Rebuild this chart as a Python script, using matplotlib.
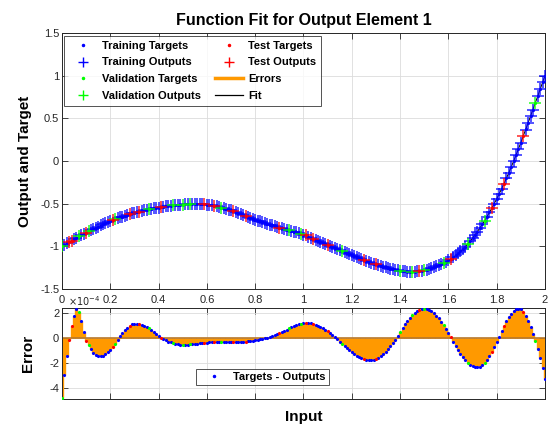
import numpy as np
import matplotlib.pyplot as plt
from matplotlib.lines import Line2D

plt.rcParams['font.family'] = ['Liberation Sans', 'DejaVu Sans']
plt.rcParams['axes.unicode_minus'] = False

# inputs sampled every 0.01 on [0, 2]
inputs = np.linspace(0, 2, 201)

targets = [
    -1.000, -0.983, -0.966, -0.949, -0.932, -0.916, -0.900, -0.884, -0.869, -0.854,
    -0.840, -0.826, -0.811, -0.797, -0.783, -0.769, -0.756, -0.743, -0.731, -0.718,
    -0.706, -0.694, -0.683, -0.672, -0.661, -0.651, -0.641, -0.632, -0.623, -0.615,
    -0.607, -0.599, -0.592, -0.585, -0.578, -0.572, -0.566, -0.561, -0.556, -0.551,
    -0.547, -0.542, -0.537, -0.533, -0.529, -0.525, -0.521, -0.518, -0.515, -0.512,
    -0.510, -0.508, -0.506, -0.505, -0.504, -0.504, -0.504, -0.505, -0.507, -0.509,
    -0.512, -0.516, -0.521, -0.526, -0.532, -0.539, -0.546, -0.554, -0.562, -0.571,
    -0.580, -0.590, -0.600, -0.611, -0.622, -0.633, -0.644, -0.655, -0.666, -0.677,
    -0.688, -0.698, -0.708, -0.717, -0.727, -0.736, -0.745, -0.754, -0.763, -0.772,
    -0.780, -0.788, -0.796, -0.804, -0.812, -0.820, -0.828, -0.836, -0.845, -0.853,
    -0.862, -0.873, -0.885, -0.897, -0.909, -0.921, -0.933, -0.945, -0.957, -0.969,
    -0.981, -0.993, -1.005, -1.017, -1.029, -1.041, -1.053, -1.065, -1.077, -1.089,
    -1.101, -1.113, -1.125, -1.137, -1.149, -1.160, -1.171, -1.182, -1.192, -1.202,
    -1.212, -1.222, -1.231, -1.240, -1.248, -1.256, -1.263, -1.270, -1.276, -1.282,
    -1.287, -1.291, -1.294, -1.296, -1.297, -1.297, -1.296, -1.294, -1.290, -1.285,
    -1.279, -1.272, -1.264, -1.255, -1.245, -1.234, -1.222, -1.209, -1.195, -1.180,
    -1.164, -1.147, -1.128, -1.107, -1.084, -1.059, -1.032, -1.003, -0.972, -0.939,
    -0.904, -0.867, -0.828, -0.787, -0.744, -0.699, -0.652, -0.603, -0.552, -0.499,
    -0.444, -0.387, -0.328, -0.267, -0.204, -0.139, -0.072, -0.003, 0.068, 0.141,
    0.216, 0.292, 0.369, 0.446, 0.524, 0.602, 0.681, 0.760, 0.840, 0.920,
    1.000,
]

# targets - outputs, in units of 1e-4
errors_e4 = [
    -4.80, -2.95, -1.45, -0.15, 0.95, 1.80, 2.35, 2.05, 1.40, 0.50,
    -0.19, -0.56, -0.89, -1.17, -1.36, -1.46, -1.46, -1.41, -1.30, -1.14,
    -0.93, -0.69, -0.43, -0.14, 0.13, 0.38, 0.62, 0.82, 0.98, 1.10,
    1.15, 1.16, 1.13, 1.08, 1.00, 0.91, 0.79, 0.66, 0.50, 0.34,
    0.17, 0.00, -0.09, -0.18, -0.27, -0.34, -0.41, -0.46, -0.50, -0.52,
    -0.53, -0.53, -0.52, -0.50, -0.48, -0.46, -0.44, -0.42, -0.40, -0.38,
    -0.36, -0.34, -0.33, -0.32, -0.31, -0.30, -0.29, -0.29, -0.29, -0.29,
    -0.30, -0.30, -0.30, -0.30, -0.29, -0.28, -0.27, -0.25, -0.23, -0.20,
    -0.17, -0.14, -0.10, -0.06, -0.02, 0.03, 0.09, 0.15, 0.22, 0.30,
    0.39, 0.48, 0.58, 0.68, 0.78, 0.88, 0.97, 1.05, 1.11, 1.16,
    1.19, 1.20, 1.20, 1.18, 1.14, 1.08, 1.00, 0.90, 0.79, 0.67,
    0.53, 0.39, 0.23, 0.08, -0.09, -0.28, -0.47, -0.65, -0.82, -0.98,
    -1.13, -1.27, -1.39, -1.50, -1.59, -1.66, -1.71, -1.74, -1.75, -1.73,
    -1.67, -1.57, -1.44, -1.27, -1.08, -0.86, -0.62, -0.37, -0.11, 0.19,
    0.51, 0.81, 1.10, 1.37, 1.62, 1.83, 2.01, 2.16, 2.26, 2.33,
    2.35, 2.33, 2.26, 2.15, 1.99, 1.80, 1.57, 1.31, 1.02, 0.71,
    0.39, 0.07, -0.27, -0.61, -0.94, -1.24, -1.51, -1.76, -1.96, -2.12,
    -2.24, -2.30, -2.32, -2.27, -2.15, -1.97, -1.72, -1.43, -1.09, -0.72,
    -0.32, 0.09, 0.53, 0.95, 1.34, 1.68, 1.96, 2.17, 2.30, 2.35,
    2.29, 2.11, 1.80, 1.38, 0.89, 0.34, -0.25, -0.85, -1.55, -2.35,
    -3.28,
]

# sample indices that went to validation / test (rest are training)
val_idx = [0, 7, 11, 22, 36, 46, 50, 53, 66, 94, 99, 116, 140, 145, 150, 158, 168, 175, 196]
test_idx = [3, 4, 10, 21, 28, 32, 41, 59, 63, 71, 76, 90, 101, 104, 110, 125, 130, 148,
            161, 178, 183, 191]

x = np.asarray(inputs)
t = np.asarray(targets)
e = np.asarray(errors_e4) * 1e-4
y = t - e

split = np.zeros(len(x), dtype=int)
split[val_idx] = 1
split[test_idx] = 2
colors = ['#0000ff', '#00ff00', '#ff0000']
orange = '#ff9900'
dark = '#262626'

fig = plt.figure(figsize=(5.51, 4.26), dpi=100)
ax1 = fig.add_axes([0.1125, 0.3216, 0.8766, 0.601])
ax2 = fig.add_axes([0.1125, 0.0634, 0.8766, 0.2136])

for ax in (ax1, ax2):
    ax.set_xlim(0, 2)
    ax.set_xticks(np.arange(0, 2.01, 0.2))
    ax.tick_params(direction='in', top=True, right=True, length=4, width=0.6,
                   labelsize=8, colors=dark, pad=2)
    ax.grid(True, color='#dcdcdc', lw=0.6)
    ax.set_axisbelow(True)
    for s in ax.spines.values():
        s.set_color(dark)
        s.set_linewidth(0.7)

# top: targets, outputs, errors, fit
ax1.vlines(x, t, y, color=orange, lw=2)
ax1.plot(x, y, '-', color='k', lw=0.7, zorder=2)
for k in range(3):
    m = split == k
    ax1.plot(x[m], t[m], '.', color=colors[k], ms=2.5, zorder=3)
    ax1.plot(x[m], y[m], '+', color=colors[k], ms=8, mew=1.1, alpha=0.85, zorder=3)

ax1.set_ylim(-1.5, 1.5)
ax1.set_yticks([-1.5, -1, -0.5, 0, 0.5, 1, 1.5])
ax1.set_yticklabels(['-1.5', '-1', '-0.5', '0', '0.5', '1', '1.5'])
ax1.set_xticklabels(['0', '0.2', '0.4', '0.6', '0.8', '1', '1.2', '1.4', '1.6', '1.8', '2'])
ax1.tick_params(axis='x', pad=4)
ax1.set_title('Function Fit for Output Element 1', fontsize=11.5, fontweight='bold', pad=6)
ax1.set_ylabel('Output and Target', fontsize=11, fontweight='bold', labelpad=6)

handles = [
    Line2D([], [], ls='', marker='.', color=colors[0], ms=3),
    Line2D([], [], ls='', marker='+', color=colors[0], ms=7),
    Line2D([], [], ls='', marker='.', color=colors[1], ms=3),
    Line2D([], [], ls='', marker='+', color=colors[1], ms=7),
    Line2D([], [], ls='', marker='.', color=colors[2], ms=3),
    Line2D([], [], ls='', marker='+', color=colors[2], ms=7),
    Line2D([], [], color=orange, lw=2.5),
    Line2D([], [], color='k', lw=0.9),
]
labels = ['Training Targets', 'Training Outputs', 'Validation Targets', 'Validation Outputs',
          'Test Targets', 'Test Outputs', 'Errors', 'Fit']
leg = ax1.legend(handles, labels, ncol=2, loc='upper left', bbox_to_anchor=(0.004, 0.99),
                 prop=dict(weight='bold', size=8), frameon=True, fancybox=False,
                 handlelength=2.6, handletextpad=0.4, columnspacing=1.2,
                 labelspacing=0.62, borderpad=0.45, borderaxespad=0)
leg.get_frame().set_edgecolor(dark)
leg.get_frame().set_linewidth(0.7)

# bottom: error stems and dots
ax2.vlines(x, 0, e, color=orange, lw=2.4)
ax2.axhline(0, color='#b8782a', lw=1.2)
for k in range(3):
    m = split == k
    ax2.plot(x[m], e[m], '.', color=colors[k], ms=2.5, zorder=3)
ax2.set_ylim(-4.85e-4, 2.4e-4)
ax2.set_yticks([-4e-4, -2e-4, 0, 2e-4])
ax2.set_yticklabels(['-4', '-2', '0', '2'])
ax2.text(0.013, 1.005, r'$\times10^{-4}$', transform=ax2.transAxes, fontsize=7,
         color=dark, ha='left', va='bottom')
ax2.set_xticklabels([])
ax2.set_ylabel('Error', fontsize=11, fontweight='bold', labelpad=10)
ax2.set_xlabel('Input', fontsize=11, fontweight='bold', labelpad=6)

leg2 = ax2.legend([Line2D([], [], ls='', marker='.', color=colors[0], ms=3)],
                  ['Targets - Outputs'], loc='center', bbox_to_anchor=(0.415, 0.24),
                  prop=dict(weight='bold', size=8), frameon=True, fancybox=False,
                  handlelength=2.6, handletextpad=0.4, borderpad=0.3)
leg2.get_frame().set_edgecolor(dark)
leg2.get_frame().set_linewidth(0.7)

plt.savefig('out.png', dpi=100)
